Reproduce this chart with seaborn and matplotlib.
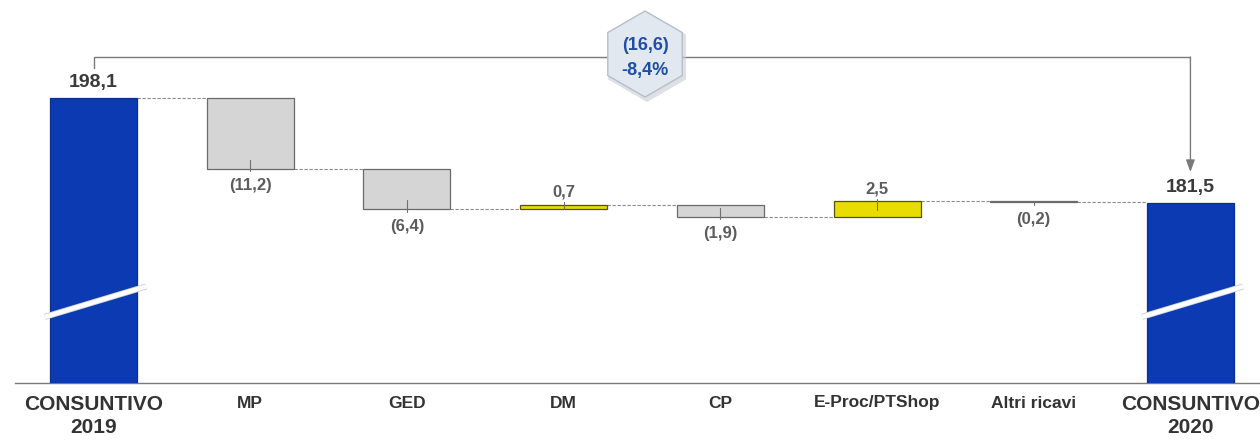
import numpy as np
import pandas as pd
import matplotlib
matplotlib.use("Agg")
import matplotlib.pyplot as plt
import matplotlib.patheffects as pe
from matplotlib.patches import RegularPolygon
from matplotlib.transforms import ScaledTranslation
import seaborn as sns

# Ricavi: bridge 2019 -> 2020 (milioni di euro)
categories = ["CONSUNTIVO\n2019", "MP", "GED", "DM", "CP",
              "E-Proc/PTShop", "Altri ricavi", "CONSUNTIVO\n2020"]
values = [198.1, -11.2, -6.4, 0.7, -1.9, 2.5, -0.2, 181.5]
is_total = [True, False, False, False, False, False, False, True]

sns.set_theme(style="white")
plt.rcParams["font.family"] = ["Liberation Sans", "DejaVu Sans"]

BLUE = "#0b3ab2"
GREY = "#d5d5d5"
YELLOW = "#e8dc00"


def fmt(v):
    s = f"{abs(v):.1f}".replace(".", ",")
    return f"({s})" if v < 0 else s


# floating bars: totals start at zero, deltas start at the running level
bases, heights = [], []
level = 0.0
for v, tot in zip(values, is_total):
    if tot:
        bases.append(0.0)
        heights.append(v)
        level = v
    else:
        bases.append(level)
        heights.append(v)
        level += v

df = pd.DataFrame({"voce": categories, "altezza": heights, "base": bases})

fig = plt.figure(figsize=(12.6, 4.41), dpi=100)
ax = fig.add_axes([15 / 1260, 58 / 441, 1245 / 1260, 383 / 441])

sns.barplot(data=df, x="voce", y="altezza", order=categories,
            bottom=df["base"].to_numpy(), width=0.555, errorbar=None,
            color=GREY, linewidth=0.9, edgecolor="#6a6a6a", ax=ax, zorder=3)

for patch, v, tot in zip(ax.patches, values, is_total):
    if tot:
        patch.set_facecolor(BLUE)
        patch.set_edgecolor("#0a2f90")
    elif v > 0:
        patch.set_facecolor(YELLOW)
        patch.set_edgecolor("#55501a")
    else:
        patch.set_facecolor(GREY)
        patch.set_edgecolor("#6a6a6a")

ax.set_xlim(-0.501, 7.444)
ax.set_ylim(153.04, 213.6)

half = 0.555 / 2
ends = [b + h for b, h in zip(bases, heights)]
tops = [v if t else e for v, t, e in zip(values, is_total, ends)]

# dotted connectors between consecutive bars
for i in range(len(values) - 1):
    y = tops[i] if is_total[i] else ends[i]
    ax.plot([i + half, i + 1 - half], [y, y], color="#8c8c8c", lw=0.8,
            ls=(0, (3, 1.5)), zorder=2)

# value labels and small leader ticks
for i, (v, tot) in enumerate(zip(values, is_total)):
    if tot:
        ax.annotate(fmt(v), (i, v), xytext=(0, 5), textcoords="offset points",
                    ha="center", va="bottom", fontsize=14, fontweight="bold",
                    color="#3a3a3a")
        continue
    end = ends[i]
    s = 1 if v > 0 else -1
    inner = min(1.4, abs(v))
    ax.plot([i, i], [end - s * inner, end + s * 0.4], color="#707070",
            lw=0.8, zorder=4)
    off = 9 if v > 0 else -12
    ax.annotate(fmt(v), (i, end), xytext=(0, off), textcoords="offset points",
                ha="center", va="center", fontsize=12, fontweight="bold",
                color="#5c5c5c")

# axis break marks on the total bars
for i in (0, 7):
    ax.plot([i - 0.31, i + 0.335], [163.5, 168.3], color="white", lw=3.2,
            solid_capstyle="butt", zorder=5, clip_on=False,
            path_effects=[pe.Stroke(linewidth=4.4, foreground="#c9cdd6"),
                          pe.Normal()])

# bracket from 2019 to 2020 with arrow
y_br = 204.58
ax.plot([0, 0, 7], [202.84, y_br, y_br], color="#7a7a7a", lw=1.0,
        zorder=2, solid_joinstyle="miter")
ax.annotate("", xy=(7, 186.4), xytext=(7, y_br),
            arrowprops=dict(arrowstyle="-|>,head_length=0.6,head_width=0.22",
                            color="#7a7a7a", lw=1.0, shrinkA=0, shrinkB=0),
            zorder=2)

# hexagon badge with total change
delta = values[-1] - values[0]
pct = delta / values[0] * 100
cx = (645 - 93.5) / 156.7
cy = 153.04 + (383 - 54) / 6.325
hex_tr = fig.dpi_scale_trans + ScaledTranslation(cx, cy, ax.transData)
ax.add_artist(RegularPolygon((0.02, -0.03), 6, radius=0.45, transform=hex_tr,
                             facecolor="#c8ccd4", edgecolor="none",
                             alpha=0.6, zorder=6))
ax.add_artist(RegularPolygon((0, 0), 6, radius=0.43, transform=hex_tr,
                             facecolor="#e2e8f0", edgecolor="#b8bec8",
                             lw=1.0, zorder=7))
ax.annotate(fmt(delta), (cx, cy), xytext=(0, 6), textcoords="offset points",
            ha="center", va="center", fontsize=13, fontweight="bold",
            color="#1f4ea8", zorder=8)
ax.annotate(f"{pct:.1f}%".replace(".", ","), (cx, cy), xytext=(0, -12),
            textcoords="offset points", ha="center", va="center",
            fontsize=13, fontweight="bold", color="#1f4ea8", zorder=8)

# axes styling
for side in ("top", "right", "left"):
    ax.spines[side].set_visible(False)
ax.spines["bottom"].set_color("#7a7a7a")
ax.spines["bottom"].set_linewidth(1.0)
ax.set_yticks([])
ax.set_xlabel("")
ax.set_ylabel("")
ax.tick_params(axis="x", length=0, pad=9)
ax.set_xticks(range(len(categories)))
ax.set_xticklabels(categories, fontweight="bold", color="#333333",
                   va="top", linespacing=1.25)
for lab, tot in zip(ax.get_xticklabels(), is_total):
    lab.set_fontsize(15 if tot else 12.5)

fig.savefig("out.png", dpi=100, facecolor="white")
